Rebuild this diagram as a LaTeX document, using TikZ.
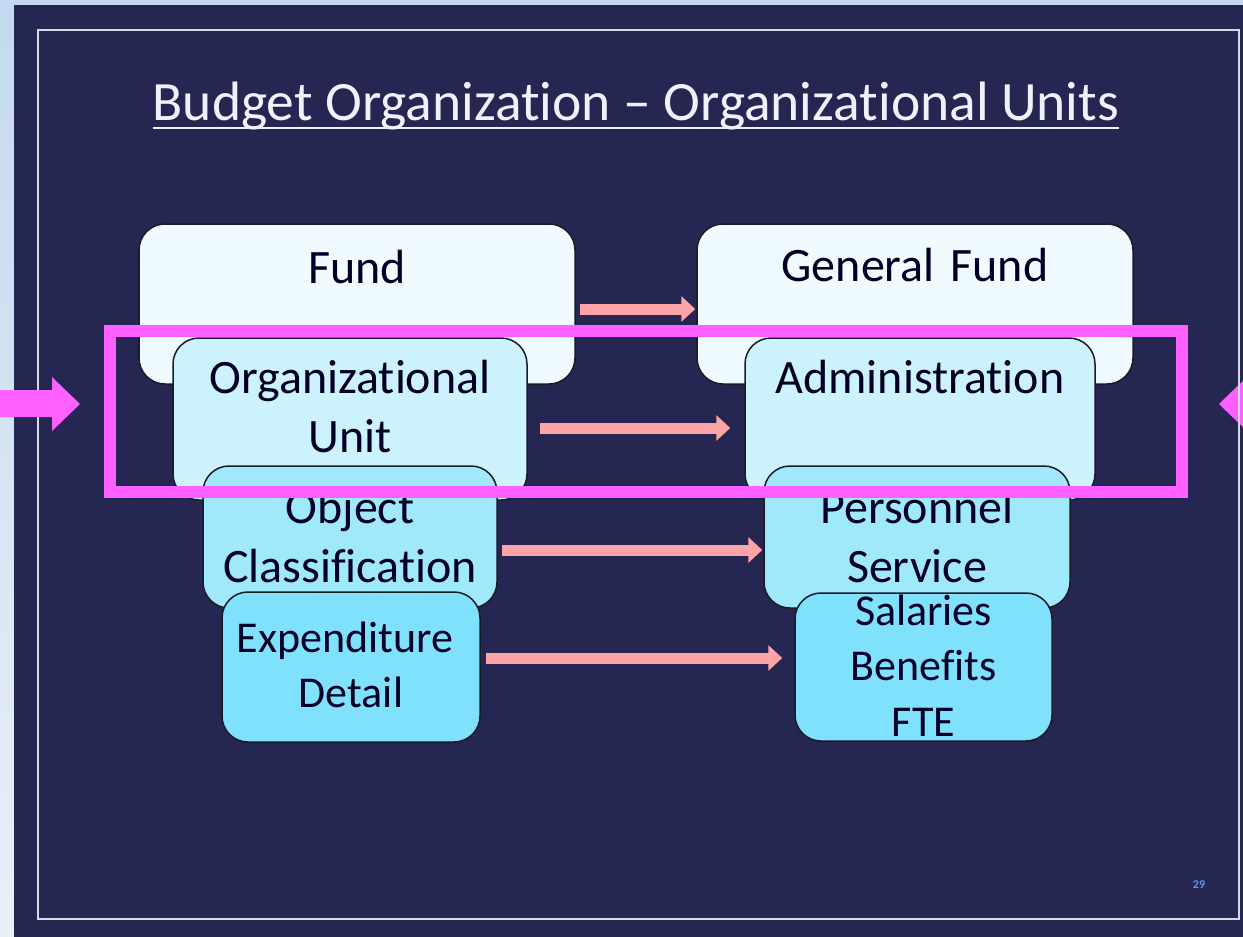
\documentclass[tikz,border=0pt]{standalone}
\usepackage{fontspec}
\setmainfont{Carlito}[Ligatures=NoCommon]
\usetikzlibrary{arrows.meta}
\usetikzlibrary{calc}

\definecolor{slidebg}{RGB}{37,39,82}
\definecolor{stripTop}{RGB}{196,217,239}
\definecolor{stripBot}{RGB}{232,240,249}
\definecolor{frameline}{RGB}{214,218,230}
\definecolor{boxline}{RGB}{26,26,40}
\definecolor{fillA}{RGB}{239,251,255}
\definecolor{fillB}{RGB}{204,242,254}
\definecolor{fillC}{RGB}{160,233,252}
\definecolor{fillD}{RGB}{128,225,253}
\definecolor{flowpink}{RGB}{255,164,166}
\definecolor{hilite}{RGB}{255,96,255}
\definecolor{pagenum}{RGB}{100,150,230}

\tikzset{
  unitbox/.style={draw=boxline, line width=1.5pt, rounded corners=26pt,
    inner sep=0pt, align=center, text=black!85!blue,
    font=\fontsize{48}{59}\selectfont},
  flow/.style={draw=flowpink, line width=11pt,
    -{Triangle[width=25pt,length=14pt]}},
  mark box/.style={draw=hilite, line width=12pt}
}

\begin{document}
\begin{tikzpicture}[x=1pt,y=-1pt]
    \useasboundingbox (0,0) rectangle (1243,937);
    % slide background
    \fill[stripTop] (0,0) rectangle (1243,5);
    \shade[top color=stripTop,bottom color=stripBot] (0,0) rectangle (14,937);
    \fill[slidebg] (14,5) rectangle (1243,937);
    % right pointer (under the frame)
    \fill[hilite] (1219,404) -- (1247,377) -- (1247,390) -- (1300,390)
        -- (1300,417) -- (1247,417) -- (1247,431) -- cycle;
    \draw[frameline,line width=2pt] (38,30) rectangle (1239,919);
    % left pointer
    \fill[hilite] (0,390) -- (52,390) -- (52,377) -- (80,404) -- (52,431)
        -- (52,417) -- (0,417) -- cycle;

    % title
    \node[anchor=base,inner sep=0pt,text=white!94!blue,
        font=\fontsize{55.5}{60}\selectfont] (title) at (636,120)
        {Budget Organization – Organizational Units};
    \draw[white!94!blue,line width=2pt] ([yshift=-8pt]title.base west)
        -- ([yshift=-8pt]title.base east);

    % level 1
    \node[unitbox,fill=fillA,text width=436pt,text height=59pt,text depth=101pt]
        (fund) at (357,304) {Fund};
    \node[unitbox,fill=fillA,text width=436pt,text height=57pt,text depth=103pt]
        (genfund) at (915,304) {General Fund};
    % level 2
    \node[unitbox,fill=fillB,text width=354pt,text height=55pt,text depth=107pt]
        (orgunit) at (350,419) {Organizational\\Unit};
    \node[unitbox,fill=fillB,text width=350pt,text height=55pt,text depth=107pt]
        (admin) at (920,419) {Administration};
    % level 3
    \node[unitbox,fill=fillC,text width=294pt,text height=57pt,text depth=85pt]
        (objclass) at (350,537) {Object\\Classification};
    \node[unitbox,fill=fillC,text width=306pt,text height=57pt,text depth=85pt]
        (persserv) at (917,537) {Personnel\\Service};
    % level 4
    \node[unitbox,fill=fillD,text width=258pt,text height=60pt,text depth=90pt,
        font=\fontsize{44}{55}\selectfont]
        (expdetail) at (351,667) {Expenditure\kern12pt\\Detail};
    \node[unitbox,fill=fillD,text width=257pt,text height=32pt,text depth=116pt,
        font=\fontsize{44}{55.5}\selectfont]
        (salaries) at (923.5,667) {Salaries\\Benefits\\FTE};

    % mapping arrows
    \draw[flow,shorten <=4pt,shorten >=1pt] ([yshift=-5pt]fund.east)
        -- ([yshift=-5pt]genfund.west);
    \draw[flow,shorten <=12pt,shorten >=14pt] ([yshift=-9pt]orgunit.east)
        -- ([yshift=-9pt]admin.west);
    \draw[flow,shorten <=4pt,shorten >=1pt] ([yshift=-13pt]objclass.east)
        -- ([yshift=-13pt]persserv.west);
    \draw[flow,shorten <=5pt,shorten >=12pt] ([yshift=9pt]expdetail.east)
        -- ([yshift=9pt]salaries.west);

    % highlight frame
    \draw[mark box] (110,331) rectangle (1182,492);

    \node[text=pagenum,font=\fontsize{12}{13}\selectfont\bfseries,inner sep=0pt]
        (pageno) at (1199,885) {29};
\end{tikzpicture}
\end{document}
